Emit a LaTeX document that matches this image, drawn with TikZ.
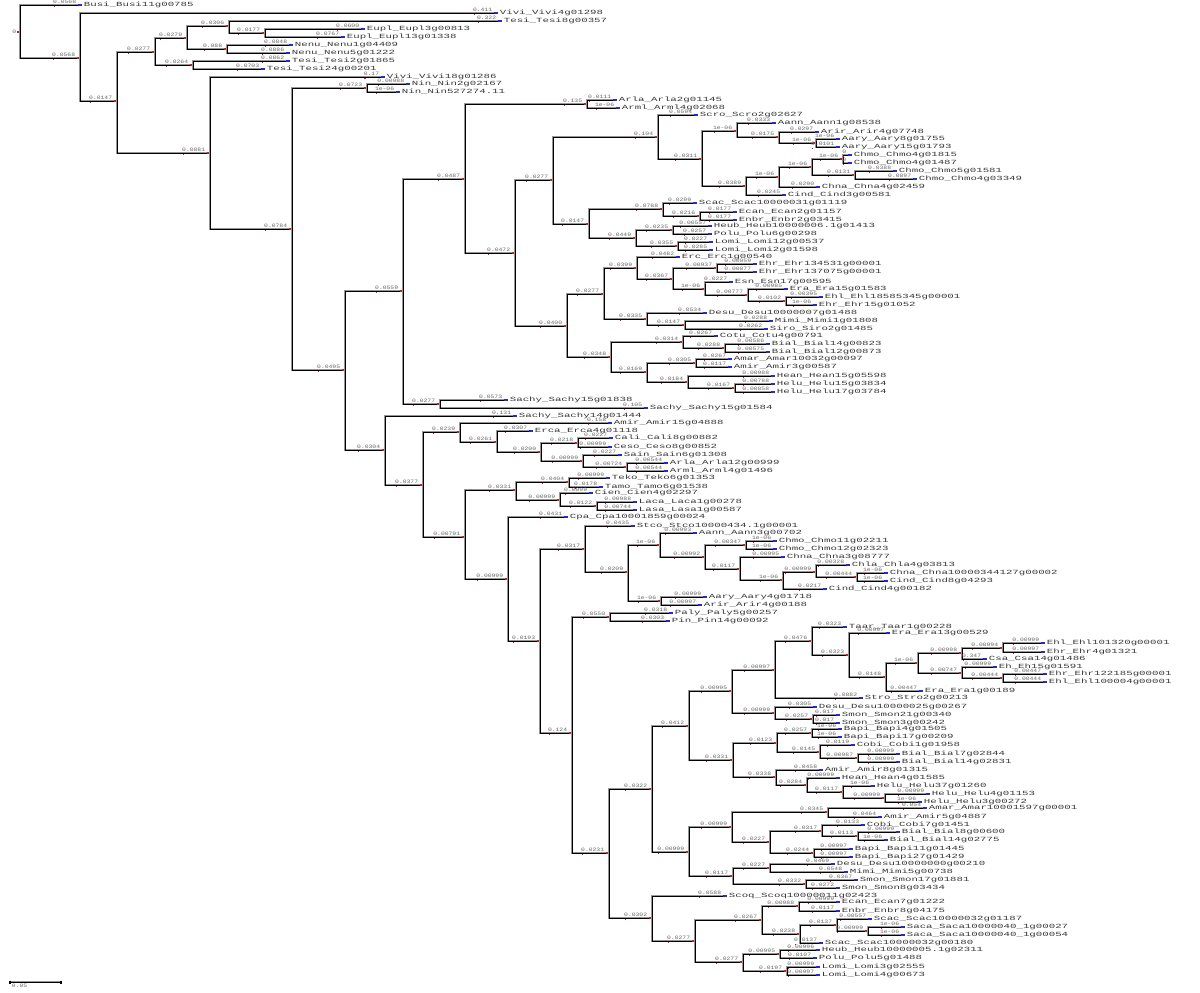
\documentclass[tikz,border=0pt]{standalone}
\usepackage{fontspec}
\usetikzlibrary{calc}
\newfontfamily\taxfont[FakeStretch=1.7]{Liberation Mono}
\newfontfamily\lenfont[FakeStretch=1.25]{Liberation Mono}
\definecolor{treegray}{RGB}{150,150,150}
\definecolor{tipblue}{RGB}{40,40,210}
\definecolor{nodered}{RGB}{205,30,30}

% inner clade: name, x, y, parent, branch length
\newcommand{\clade}[5]{%
  \coordinate (#1) at (#2,#3);
  \draw[branch] (#4) |- (#1);
  \draw[nodered, line width=0.8pt] ($(#1)+(-3,0)$) -- (#1);
  \node[blen] (#1len) at ($(#1)+(-4,-0.6)$) {#5};
  \fill[nodered] ($(#1len.south west)+(1.5,1.2)$) rectangle +(1.3,1.5);
}
% tip: name, x, y, parent, branch length, taxon
\newcommand{\taxon}[6]{%
  \coordinate (#1) at (#2,#3);
  \draw[branch] (#4) |- (#1);
  \draw[tipblue, line width=0.8pt] ($(#1)+(-4,0)$) -- (#1);
  \node[blen] (#1len) at ($(#1)+(-5,-0.6)$) {#5};
  \fill[nodered] ($(#1len.south west)+(1.5,1.2)$) rectangle +(1.3,1.5);
  \node[tiptext] (#1txt) at ($(#1)+(1,0)$) {#6};
}

\begin{document}
\begin{tikzpicture}[x=0.02cm, y=-0.02cm,
    branch/.style={draw=black, line width=0.45pt, preaction={draw=treegray, line width=1.1pt}},
    blen/.style={font=\lenfont\fontsize{2.9}{2.9}\selectfont, text=black!60, inner sep=0.3pt, anchor=south east},
    tiptext/.style={font=\taxfont\fontsize{3.6}{4}\selectfont, text=black!78, inner sep=0.3pt, anchor=west}]
    \useasboundingbox (0,0) rectangle (1200,992);

    % root
    \coordinate (r) at (20,32);
    \node[blen, anchor=east] (rlab) at ($(r)+(-3,0)$) {0};
    \draw[nodered, line width=0.8pt] ($(r)+(-3,0)$) -- (r);

    % outgroups
    \taxon{busi}{82}{5}{r}{0.0568}{Busi\_Busi11g00785}
    \clade{n1}{80}{58}{r}{0.0568}
    \taxon{vivia}{498}{13}{n1}{0.411}{Vivi\_Vivi4g01298}
    \clade{n2}{117}{101}{n1}{0.0147}
    \clade{n3}{155}{52}{n2}{0.0277}
    \clade{n5}{187}{38}{n3}{0.0279}
    \clade{n7}{229}{26}{n5}{0.0306}
    \taxon{tesia}{502}{21}{n7}{0.322}{Tesi\_Tesi8g00357}
    \clade{n9}{265}{33}{n7}{0.0177}
    \taxon{eupla}{365}{29}{n9}{0.0600}{Eupl\_Eupl3g00813}
    \taxon{euplb}{345}{37}{n9}{0.0767}{Eupl\_Eupl13g01338}
    \clade{n8}{227}{49}{n5}{0.088}
    \taxon{nenua}{293}{45}{n8}{0.0848}{Nenu\_Nenu1g04409}
    \taxon{nenub}{290}{53}{n8}{0.0886}{Nenu\_Nenu5g01222}
    \clade{n6}{193}{65}{n3}{0.0264}
    \taxon{tesib}{290}{61}{n6}{0.0862}{Tesi\_Tesi2g01865}
    \taxon{tesic}{265}{69}{n6}{0.0703}{Tesi\_Tesi24g00201}
    \clade{n4}{210}{153}{n2}{0.0881}
    \taxon{vivib}{385}{77}{n4}{0.17}{Vivi\_Vivi18g01286}
    \clade{n10}{292}{229}{n4}{0.0784}
    \clade{n11}{367}{88}{n10}{0.0723}
    \taxon{nina}{410}{84}{n11}{0.00988}{Nin\_Nin2g02167}
    \taxon{ninb}{400}{92}{n11}{1e-06}{Nin\_Nin527274.11}

    % first large clade
    \clade{n12}{345}{370}{n10}{0.0495}
    \clade{n13}{403}{291}{n12}{0.0559}
    \clade{n15}{465}{179}{n13}{0.0487}
    \clade{n17}{587}{104}{n15}{0.135}
    \taxon{arlaa}{617}{100}{n17}{0.0111}{Arla\_Arla2g01145}
    \taxon{armla}{620}{108}{n17}{1e-06}{Arml\_Arml4g02068}
    \clade{n18}{515}{253}{n15}{0.0472}
    \clade{n19}{553}{180}{n18}{0.0277}
    \clade{n21}{658}{137}{n19}{0.104}
    \taxon{scro}{698}{115}{n21}{0.0594}{Scro\_Scro2g02627}
    \clade{n23}{702}{159}{n21}{0.0311}
    \clade{n24}{737}{131}{n23}{1e-06}
    \taxon{aanna}{776}{123}{n24}{0.0333}{Aann\_Aann1g08538}
    \clade{n26}{779}{137}{n24}{0.0175}
    \taxon{arira}{819}{132}{n26}{0.0297}{Arir\_Arir4g07748}
    \clade{n27}{816}{143}{n26}{1e-06}
    \taxon{aarya}{840}{139}{n27}{1e-06}{Aary\_Aary8g01755}
    \taxon{aaryb}{840}{147}{n27}{0.0101}{Aary\_Aary15g01793}
    \clade{n25}{746}{186}{n23}{0.0389}
    \clade{n28}{779}{177}{n25}{1e-06}
    \clade{n29}{812}{167}{n28}{1e-06}
    \clade{n30}{843}{159}{n29}{1e-06}
    \taxon{chmoa}{852}{155}{n30}{0}{Chmo\_Chmo4g01815}
    \taxon{chmob}{852}{163}{n30}{0}{Chmo\_Chmo4g01487}
    \clade{n31}{855}{175}{n29}{0.0131}
    \taxon{chmoc}{897}{171}{n31}{0.0388}{Chmo\_Chmo5g01581}
    \taxon{chmod}{917}{179}{n31}{0.0897}{Chmo\_Chmo4g03349}
    \taxon{chnaa}{820}{187}{n28}{0.0290}{Chna\_Chna4g02459}
    \taxon{cinda}{786}{195}{n25}{0.0245}{Cind\_Cind3g00581}
    \clade{n22}{589}{224}{n19}{0.0147}
    \clade{n32}{663}{209}{n22}{0.0788}
    \taxon{scaca}{697}{203}{n32}{0.0299}{Scac\_Scac10000031g01119}
    \clade{n34}{700}{216}{n32}{0.0216}
    \taxon{ecana}{737}{212}{n34}{0.0177}{Ecan\_Ecan2g01157}
    \taxon{enbra}{737}{220}{n34}{0.0177}{Enbr\_Enbr2g03415}
    \clade{n33}{636}{238}{n22}{0.0449}
    \clade{n35}{673}{230}{n33}{0.0235}
    \taxon{heuba}{712}{226}{n35}{0.00557}{Heub\_Heub10000006.1g01413}
    \taxon{polua}{712}{234}{n35}{0.0257}{Polu\_Polu6g00298}
    \clade{n36}{678}{246}{n33}{0.0355}
    \taxon{lomia}{713}{242}{n36}{0.0227}{Lomi\_Lomi12g00537}
    \taxon{lomib}{713}{250}{n36}{0.0285}{Lomi\_Lomi2g01598}
    \clade{n20}{567}{326}{n18}{0.0400}
    \clade{n37}{604}{294}{n20}{0.0277}
    \clade{n39}{637}{268}{n37}{0.0399}
    \taxon{erca}{680}{257}{n39}{0.0482}{Erc\_Erc1g00540}
    \clade{n41}{673}{279}{n39}{0.0367}
    \clade{n42}{717}{268}{n41}{0.00937}
    \taxon{ehra}{757}{264}{n42}{0.00059}{Ehr\_Ehr134531g00001}
    \taxon{ehrb}{757}{272}{n42}{0.00077}{Ehr\_Ehr137075g00001}
    \clade{n43}{705}{289}{n41}{1e-06}
    \taxon{esna}{733}{282}{n43}{0.0227}{Esn\_Esn17g00595}
    \clade{n44}{748}{295}{n43}{0.00777}
    \taxon{eraa}{788}{289}{n44}{0.00985}{Era\_Era15g01583}
    \clade{n45}{786}{301}{n44}{0.0102}
    \taxon{ehla}{823}{297}{n45}{0.00395}{Ehl\_Ehl18585345g00001}
    \taxon{ehrc}{817}{305}{n45}{1e-06}{Ehr\_Ehr15g01052}
    \clade{n40}{647}{319}{n37}{0.0335}
    \taxon{desua}{707}{313}{n40}{0.0534}{Desu\_Desu10000007g01488}
    \clade{n46}{685}{325}{n40}{0.0147}
    \taxon{mimia}{773}{321}{n46}{0.0288}{Mimi\_Mimi1g01808}
    \taxon{siroa}{768}{329}{n46}{0.0262}{Siro\_Siro2g01485}
    \clade{n38}{611}{357}{n20}{0.0348}
    \clade{n47}{683}{342}{n38}{0.0314}
    \taxon{cotua}{718}{336}{n47}{0.0267}{Cotu\_Cotu4g00791}
    \clade{n48}{725}{348}{n47}{0.0288}
    \taxon{biala}{770}{344}{n48}{0.00586}{Bial\_Bial14g00823}
    \taxon{bialb}{770}{352}{n48}{0.00575}{Bial\_Bial12g00873}
    \clade{n50}{647}{372}{n38}{0.0169}
    \clade{n51}{696}{363}{n50}{0.0305}
    \taxon{amara}{732}{359}{n51}{0.0267}{Amar\_Amar10032g00097}
    \taxon{amira}{732}{367}{n51}{0.0117}{Amir\_Amir3g00587}
    \clade{n52}{688}{382}{n50}{0.0184}
    \taxon{heana}{775}{376}{n52}{0.00988}{Hean\_Hean15g05598}
    \clade{n53}{735}{388}{n52}{0.0167}
    \taxon{helua}{775}{384}{n53}{0.00788}{Helu\_Helu15g03834}
    \taxon{helub}{775}{392}{n53}{0.00858}{Helu\_Helu17g03784}
    \clade{n16}{440}{404}{n13}{0.0277}
    \taxon{sachya}{508}{400}{n16}{0.0573}{Sachy\_Sachy15g01838}
    \taxon{sachyb}{648}{408}{n16}{0.105}{Sachy\_Sachy15g01584}

    % second large clade
    \clade{n14}{385}{450}{n12}{0.0304}
    \taxon{sachyc}{517}{416}{n14}{0.131}{Sachy\_Sachy14g01444}
    \clade{n55}{423}{485}{n14}{0.0377}
    \clade{n56}{460}{432}{n55}{0.0239}
    \taxon{amirb}{612}{423}{n56}{0.158}{Amir\_Amir15g04888}
    \clade{n57}{497}{442}{n56}{0.0261}
    \taxon{ercaa}{533}{431}{n57}{0.0307}{Erca\_Erca4g01118}
    \clade{n58}{541}{452}{n57}{0.0200}
    \clade{n59}{578}{443}{n58}{0.0218}
    \taxon{calia}{613}{438}{n59}{0.0227}{Cali\_Cali8g00882}
    \taxon{cesoa}{612}{447}{n59}{0.00999}{Ceso\_Ceso8g00852}
    \clade{n61}{583}{461}{n58}{0.00999}
    \taxon{saina}{622}{455}{n61}{0.0227}{Sain\_Sain6g01308}
    \clade{n62}{627}{467}{n61}{0.00724}
    \taxon{arlab}{668}{463}{n62}{0.00544}{Arla\_Arla12g00999}
    \taxon{armlb}{668}{471}{n62}{0.00544}{Arml\_Arml4g01496}
    \clade{n60}{465}{537}{n55}{0.00791}
    \clade{n63}{516}{490}{n60}{0.0331}
    \clade{n65}{569}{482}{n63}{0.0404}
    \taxon{tekoa}{610}{478}{n65}{0.00999}{Teko\_Teko6g01353}
    \taxon{tamoa}{603}{487}{n65}{0.0178}{Tamo\_Tamo6g01538}
    \clade{n66}{560}{500}{n63}{0.00999}
    \taxon{ciena}{593}{493}{n66}{0.0099}{Cien\_Cien4g02297}
    \clade{n67}{597}{506}{n66}{0.0122}
    \taxon{lacaa}{637}{502}{n67}{0.00988}{Laca\_Laca1g00278}
    \taxon{lasaa}{637}{510}{n67}{0.00744}{Lasa\_Lasa1g00587}
    \clade{n64}{508}{579}{n60}{0.00999}
    \taxon{cpaa}{568}{517}{n64}{0.0431}{Cpa\_Cpa10001859g00024}
    \clade{n68}{540}{641}{n64}{0.0193}
    \clade{n69}{585}{549}{n68}{0.0317}
    \taxon{stcoa}{635}{526}{n69}{0.0435}{Stco\_Stco10000434.1g00001}
    \clade{n71}{628}{572}{n69}{0.0209}
    \clade{n72}{660}{545}{n71}{1e-06}
    \taxon{aannb}{697}{533}{n72}{0.00993}{Aann\_Aann3g00702}
    \clade{n74}{705}{557}{n72}{0.00992}
    \clade{n75}{746}{545}{n74}{0.00347}
    \taxon{chmoe}{777}{541}{n75}{1e-06}{Chmo\_Chmo11g02211}
    \taxon{chmof}{777}{549}{n75}{1e-06}{Chmo\_Chmo12g02323}
    \clade{n76}{740}{569}{n74}{0.0117}
    \taxon{chnab}{785}{557}{n76}{0.00995}{Chna\_Chna3g08777}
    \clade{n77}{783}{580}{n76}{1e-06}
    \clade{n78}{816}{572}{n77}{0.00999}
    \taxon{chlaa}{850}{565}{n78}{0.00328}{Chla\_Chla4g03813}
    \clade{n79}{857}{577}{n78}{0.00444}
    \taxon{chnac}{888}{573}{n79}{1e-06}{Chna\_Chna10000344127g00002}
    \taxon{cindb}{888}{581}{n79}{1e-06}{Cind\_Cind8g04293}
    \taxon{cindc}{827}{589}{n77}{0.0217}{Cind\_Cind4g00182}
    \clade{n73}{661}{601}{n71}{1e-06}
    \taxon{aaryc}{707}{597}{n73}{0.00999}{Aary\_Aary4g01718}
    \taxon{arirb}{702}{605}{n73}{0.00997}{Arir\_Arir4g00188}
    \clade{n70}{572}{733}{n68}{0.124}
    \clade{n80}{610}{617}{n70}{0.0550}
    \taxon{palya}{673}{613}{n80}{0.0318}{Paly\_Paly5g00257}
    \taxon{pina}{670}{621}{n80}{0.0303}{Pin\_Pin14g00092}
    \clade{n81}{609}{853}{n70}{0.0231}
    \clade{n82}{652}{789}{n81}{0.0322}
    \clade{n84}{689}{726}{n82}{0.0412}
    \clade{n86}{732}{691}{n84}{0.00995}
    \clade{n88}{775}{670}{n86}{0.00997}
    \clade{n90}{812}{641}{n88}{0.0476}
    \taxon{taara}{847}{627}{n90}{0.0323}{Taar\_Taar1g00228}
    \clade{n91}{849}{655}{n90}{0.0323}
    \taxon{erab}{890}{633}{n91}{0.00997}{Era\_Era13g00529}
    \clade{n92}{886}{677}{n91}{0.0148}
    \clade{n93}{918}{663}{n92}{1e-06}
    \clade{n94}{962}{653}{n93}{0.00998}
    \clade{n96}{1003}{648}{n94}{0.00994}
    \taxon{ehlb}{1045}{643}{n96}{0.00999}{Ehl\_Ehl101320g00001}
    \taxon{ehrd}{1045}{652}{n96}{0.00997}{Ehr\_Ehr4g01321}
    \taxon{csaa}{987}{659}{n94}{0.347}{Csa\_Csa14g01486}
    \clade{n95}{962}{673}{n93}{0.00747}
    \taxon{eha}{997}{667}{n95}{0.00999}{Eh\_Eh15g01591}
    \clade{n97}{1003}{678}{n95}{0.00444}
    \taxon{ehre}{1047}{674}{n97}{0.00447}{Ehr\_Ehr122185g00001}
    \taxon{ehlc}{1047}{682}{n97}{0.00444}{Ehl\_Ehl100004g00001}
    \taxon{erac}{923}{691}{n92}{0.00447}{Era\_Era1g00189}
    \taxon{stroa}{863}{698}{n88}{0.0882}{Stro\_Stro2g00213}
    \clade{n89}{775}{713}{n86}{0.00999}
    \taxon{desub}{817}{707}{n89}{0.0305}{Desu\_Desu10000025g00267}
    \clade{n98}{813}{719}{n89}{0.0257}
    \taxon{smona}{840}{715}{n98}{0.017}{Smon\_Smon21g00340}
    \taxon{smonb}{840}{723}{n98}{0.017}{Smon\_Smon3g00242}
    \clade{n87}{733}{760}{n84}{0.0331}
    \clade{n99}{777}{743}{n87}{0.0123}
    \clade{n101}{812}{733}{n99}{0.0257}
    \taxon{bapia}{842}{729}{n101}{1e-06}{Bapi\_Bapi4g01505}
    \taxon{bapib}{842}{737}{n101}{1e-06}{Bapi\_Bapi17g00209}
    \clade{n102}{820}{752}{n99}{0.0145}
    \taxon{cobia}{855}{745}{n102}{0.0119}{Cobi\_Cobi1g01958}
    \clade{n103}{858}{758}{n102}{0.00987}
    \taxon{bialc}{900}{754}{n103}{0.00999}{Bial\_Bial7g02844}
    \taxon{biald}{900}{762}{n103}{0.00999}{Bial\_Bial14g02831}
    \clade{n100}{776}{777}{n87}{0.0338}
    \taxon{amirc}{823}{770}{n100}{0.0458}{Amir\_Amir8g01315}
    \clade{n104}{807}{785}{n100}{0.0284}
    \taxon{heanb}{840}{778}{n104}{0.00999}{Hean\_Hean4g01585}
    \clade{n105}{843}{792}{n104}{0.0117}
    \taxon{heluc}{875}{786}{n105}{1e-06}{Helu\_Helu37g01260}
    \clade{n106}{885}{798}{n105}{0.00999}
    \taxon{helud}{930}{794}{n106}{0.00999}{Helu\_Helu4g01153}
    \taxon{helue}{922}{802}{n106}{1e-06}{Helu\_Helu3g00272}
    \clade{n85}{689}{852}{n82}{0.00999}
    \clade{n107}{732}{827}{n85}{0.00999}
    \clade{n109}{828}{812}{n107}{0.0345}
    \taxon{amarb}{927}{808}{n109}{0.054}{Amar\_Amar10001597g00001}
    \taxon{amird}{882}{817}{n109}{0.0464}{Amir\_Amir5g04887}
    \clade{n110}{770}{842}{n107}{0.0227}
    \clade{n111}{822}{831}{n110}{0.0317}
    \taxon{cobib}{865}{825}{n111}{0.0133}{Cobi\_Cobi7g01451}
    \clade{n113}{858}{836}{n111}{0.0113}
    \taxon{biale}{900}{832}{n113}{0.00999}{Bial\_Bial8g00600}
    \taxon{bialf}{888}{840}{n113}{1e-06}{Bial\_Bial14g02775}
    \clade{n112}{814}{853}{n110}{0.0244}
    \taxon{bapic}{853}{849}{n112}{0.00997}{Bapi\_Bapi11g01445}
    \taxon{bapid}{853}{857}{n112}{0.00997}{Bapi\_Bapi27g01429}
    \clade{n108}{733}{876}{n85}{0.0117}
    \clade{n114}{770}{868}{n108}{0.0227}
    \taxon{desuc}{835}{864}{n114}{0.0469}{Desu\_Desu10000000g00210}
    \taxon{mimib}{848}{872}{n114}{0.0548}{Mimi\_Mimi5g00738}
    \clade{n115}{806}{884}{n108}{0.0332}
    \taxon{smonc}{858}{880}{n115}{0.0367}{Smon\_Smon17g01881}
    \taxon{smond}{840}{888}{n115}{0.0272}{Smon\_Smon8g03434}
    \clade{n83}{652}{918}{n81}{0.0302}
    \taxon{scoqa}{727}{896}{n83}{0.0588}{Scoq\_Scoq10000011g02423}
    \clade{n116}{695}{941}{n83}{0.0277}
    \clade{n117}{762}{920}{n116}{0.0267}
    \clade{n119}{799}{906}{n117}{0.00988}
    \taxon{ecanb}{840}{902}{n119}{0.00999}{Ecan\_Ecan7g01222}
    \taxon{enbrb}{840}{911}{n119}{0.0117}{Enbr\_Enbr8g04175}
    \clade{n120}{800}{934}{n117}{0.0238}
    \clade{n121}{837}{925}{n120}{0.0137}
    \taxon{scacb}{872}{919}{n121}{0.00557}{Scac\_Scac10000032g01187}
    \clade{n122}{868}{931}{n121}{0.00999}
    \taxon{sacaa}{905}{927}{n122}{1e-06}{Saca\_Saca10000040\_1g00027}
    \taxon{sacab}{905}{935}{n122}{1e-06}{Saca\_Saca10000040\_1g00054}
    \taxon{scacc}{823}{943}{n120}{0.0137}{Scac\_Scac10000032g00180}
    \clade{n118}{743}{962}{n116}{0.0277}
    \clade{n123}{780}{954}{n118}{0.00995}
    \taxon{heubb}{820}{950}{n123}{0.00996}{Heub\_Heub10000005.1g02311}
    \taxon{polub}{817}{958}{n123}{0.0107}{Polu\_Polu5g01488}
    \clade{n124}{787}{971}{n118}{0.0197}
    \taxon{lomic}{820}{967}{n124}{0.00999}{Lomi\_Lomi3g02555}
    \taxon{lomid}{820}{975}{n124}{0.00997}{Lomi\_Lomi4g00673}

    % scale bar
    \coordinate (sbl) at (10,982);
    \coordinate (sbr) at (61,982);
    \draw[branch] (sbl) -- (sbr);
    \draw[black, line width=0.8pt] ($(sbl)+(0,-1.5)$) -- ($(sbl)+(0,1.5)$);
    \draw[black, line width=0.8pt] ($(sbr)+(0,-1.5)$) -- ($(sbr)+(0,1.5)$);
    \node[blen, anchor=north west] (sblab) at ($(sbl)+(1,1.5)$) {0.05};
\end{tikzpicture}
\end{document}
